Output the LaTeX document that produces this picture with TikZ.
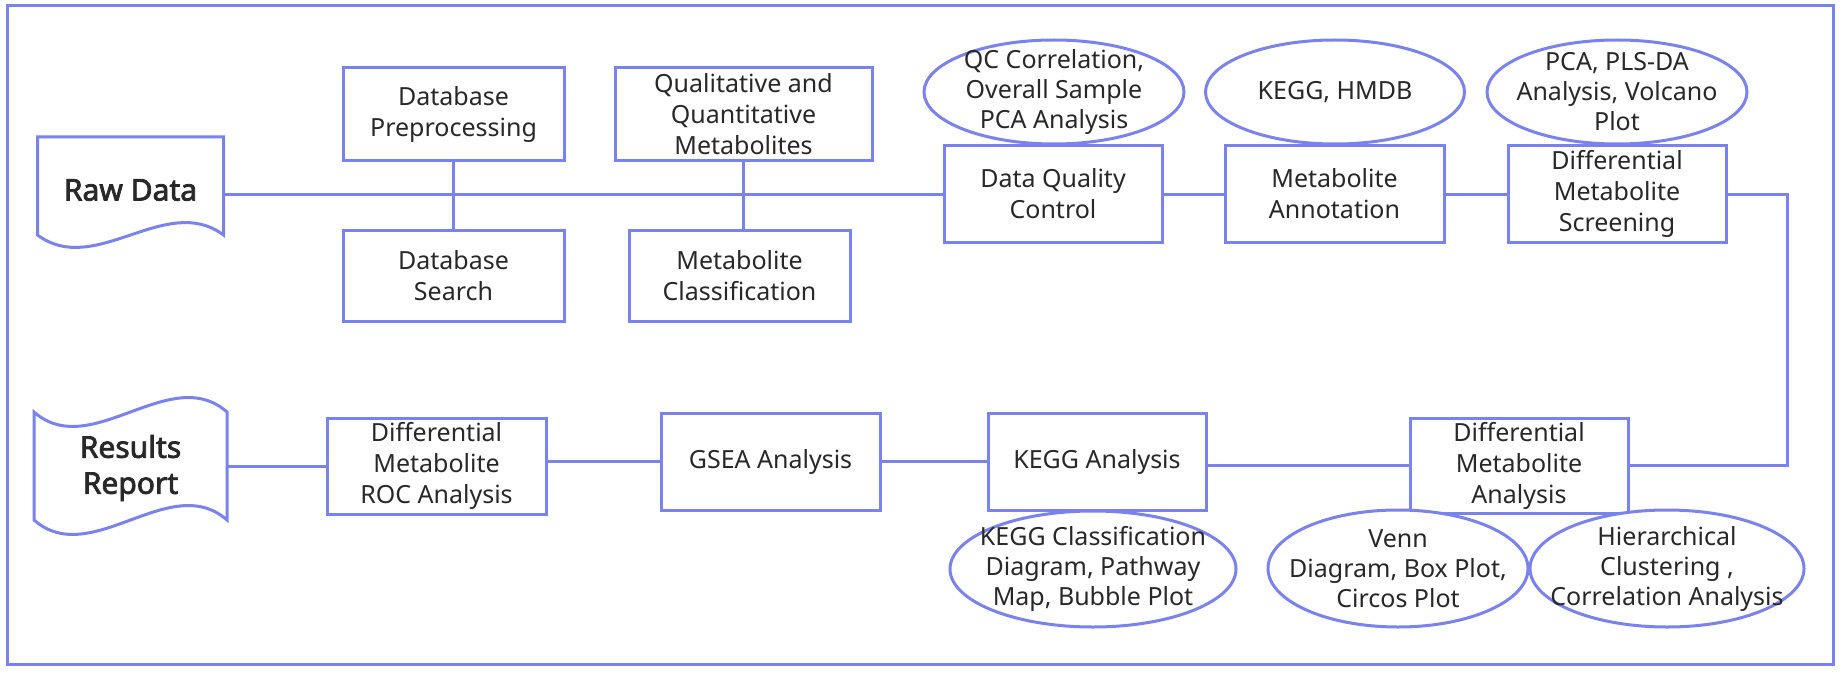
\documentclass[tikz,border=0pt]{standalone}
\usepackage{fontspec}
\setmainfont{Noto Sans}
\newfontfamily\titlefont{Noto Sans}[FakeBold=2.5]
\usetikzlibrary{positioning, shapes.geometric}
\definecolor{flowblue}{RGB}{122,130,238}
\definecolor{flowtext}{RGB}{40,40,40}

\begin{document}
\begin{tikzpicture}[x=0.5pt,y=-0.5pt]
\tikzset{
  link/.style={draw=flowblue, line width=1.5pt},
  box/.style={link, fill=white, inner sep=0pt, align=center, text=flowtext,
    font=\fontsize{12.5}{15.5}\selectfont},
  bubble/.style={link, ellipse, fill=white, inner sep=0pt},
  bubtext/.style={inner sep=0pt, align=center, text=flowtext,
    font=\fontsize{12.5}{15}\selectfont},
  doc/.style={link, fill=white},
  title/.style={inner sep=0pt, align=center, text=flowtext,
    font=\titlefont\fontsize{15}{18}\selectfont}
}
\useasboundingbox (0,0) rectangle (1842,674);

\draw[link] (7,6) rectangle (1833,664);

\draw[doc] (37.5,137) -- (223.5,137) -- (223.5,235)
  .. controls (166,192) and (95,278) .. (37.5,235) -- cycle;
\draw[doc] (34,412) .. controls (91,462) and (170,362) .. (227,412) -- (227,520)
  .. controls (170,470) and (91,570) .. (34,520) -- cycle;

\node[title, minimum width=93pt] (rawdata) at (130.5,190) {Raw Data};
\node[title, minimum width=96.5pt] (report) at (130.5,468) {Results\\Report};

\node[box, minimum width=110.5pt, minimum height=46.5pt] (dbpre) at (453.5,114.5) {Database\\Preprocessing};
\node[box, minimum width=110.5pt, minimum height=45.5pt] (dbsearch) at (453.5,275.5) {Database\\Search};
\node[box, minimum width=128.5pt, minimum height=46.5pt] (qq) at (743.5,114.5) {Qualitative and\\Quantitative\\Metabolites};
\node[box, minimum width=110.5pt, minimum height=45.5pt] (mclass) at (739.5,275.5) {Metabolite\\Classification};

\node[bubble, minimum width=130pt, minimum height=52pt,
  label={[bubtext]center:QC Correlation,\\Overall Sample\\PCA Analysis}] (qcell) at (1054,92) {};
\node[bubble, minimum width=129.5pt, minimum height=52pt,
  label={[bubtext]center:KEGG, HMDB}] (kegghm) at (1335,92) {};
\node[bubble, minimum width=130pt, minimum height=52pt,
  label={[bubtext]center:PCA, PLS-DA\\Analysis, Volcano\\Plot}] (pcaell) at (1617,92) {};

\node[box, minimum width=109pt, minimum height=48pt] (dqc) at (1053,194) {Data Quality\\Control};
\node[box, minimum width=109.5pt, minimum height=48pt] (mannot) at (1334.5,194) {Metabolite\\Annotation};
\node[box, minimum width=109pt, minimum height=48pt] (dms) at (1617,194) {Differential\\Metabolite\\Screening};

\node[box, minimum width=109.5pt, minimum height=48pt] (roc) at (436.5,466) {Differential\\Metabolite\\ROC Analysis};
\node[box, minimum width=109.5pt, minimum height=48.5pt] (gsea) at (770.5,461.5) {GSEA Analysis};
\node[box, minimum width=109pt, minimum height=48.5pt] (kegga) at (1097,461.5) {KEGG Analysis};
\node[box, minimum width=109pt, minimum height=47.5pt] (dma) at (1519,465.5) {Differential\\Metabolite\\Analysis};

\node[bubble, minimum width=143pt, minimum height=58pt,
  label={[bubtext]center:KEGG Classification\\Diagram, Pathway\\Map, Bubble Plot}] (keggell) at (1093,569) {};
\node[bubble, minimum width=130pt, minimum height=58.5pt,
  label={[bubtext]center:Venn\\Diagram, Box Plot,\\Circos Plot}] (venn) at (1398,568.5) {};
\node[bubble, minimum width=137pt, minimum height=58.5pt,
  label={[bubtext]center:Hierarchical\\Clustering ,\\Correlation Analysis}] (hier) at (1667,568.5) {};

\coordinate (bend) at (1787,194);

\draw[link] (rawdata.east |- dqc.west) -- (dqc.west);
\draw[link] (dbpre.south) -- (dbsearch.north);
\draw[link] (qq.south) -- (qq.south |- mclass.north);
\draw[link] (dqc.east) -- (mannot.west);
\draw[link] (mannot.east) -- (dms.west);
\draw[link] (dms.east) -- (bend) |- (dma.east);
\draw[link] (dma.west) -- (dma.west -| kegga.east);
\draw[link] (kegga.west) -- (gsea.east);
\draw[link] (gsea.west) -- (gsea.west -| roc.east);
\draw[link] (roc.west) -- (roc.west -| report.east);
\end{tikzpicture}
\end{document}
